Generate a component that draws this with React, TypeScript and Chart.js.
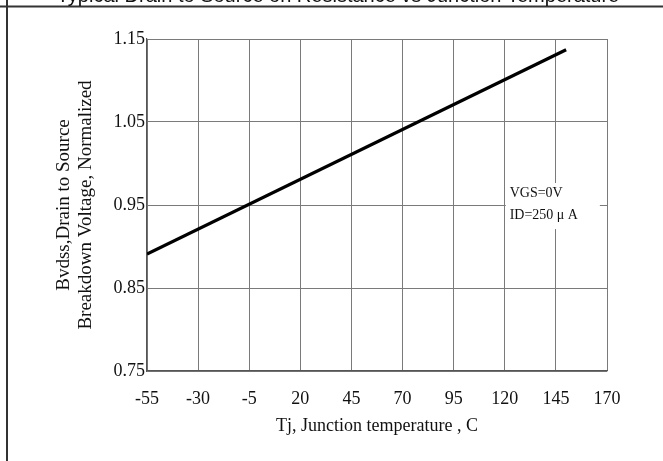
import React, { useEffect, useRef } from "react";
import { Chart, registerables } from "chart.js";

Chart.register(...registerables);

const chartTitle = "Typical Drain to Source on Resistance vs Junction Temperature";
const xTitle = "Tj, Junction temperature , C";
const yTitle = ["Bvdss,Drain to Source", "Breakdown Voltage, Normalized"];
const noteLines = ["VGS=0V", "ID=250 \u03bc A"];

const xTicks = [-55, -30, -5, 20, 45, 70, 95, 120, 145, 170];
const yTicks = [0.75, 0.85, 0.95, 1.05, 1.15];

const temps = [-55, 150];
const bvdss = [0.891, 1.137];

// annotation box (data units)
const noteBoxX = [120, 166.5];
const noteBoxY = [0.9765, 0.921];
const noteTextX = 122.4;
const noteTextY = [0.9635, 0.938];

const SERIF = "'Liberation Serif', 'Times New Roman', serif";
const SANS = "'Liberation Sans', Arial, sans-serif";
const TEXT = "#111111";

const framePlugin = {
  id: "frame",
  beforeDraw(chart: any) {
    const ctx = chart.ctx;
    ctx.save();
    ctx.fillStyle = "#ffffff";
    ctx.fillRect(0, 0, chart.width, chart.height);
    ctx.strokeStyle = "#333333";
    ctx.lineWidth = 2;
    ctx.beginPath();
    ctx.moveTo(7, 0);
    ctx.lineTo(7, chart.height);
    ctx.moveTo(0, 6.5);
    ctx.lineTo(chart.width, 6.5);
    ctx.stroke();
    ctx.fillStyle = TEXT;
    ctx.font = "20px " + SANS;
    ctx.textAlign = "center";
    ctx.textBaseline = "alphabetic";
    ctx.fillText(chartTitle, 338, 2);
    ctx.restore();
  },
  beforeDatasetsDraw(chart: any) {
    const ctx = chart.ctx;
    const xs = chart.scales.x;
    const ys = chart.scales.y;
    const l = xs.getPixelForValue(noteBoxX[0]) + 1;
    const r = xs.getPixelForValue(noteBoxX[1]);
    const t = ys.getPixelForValue(noteBoxY[0]);
    const b = ys.getPixelForValue(noteBoxY[1]);
    ctx.save();
    ctx.fillStyle = "#ffffff";
    ctx.fillRect(l, t, r - l, b - t);
    ctx.fillStyle = TEXT;
    ctx.font = "14px " + SERIF;
    ctx.textAlign = "left";
    ctx.textBaseline = "middle";
    noteLines.forEach((s, i) => {
      ctx.fillText(s, xs.getPixelForValue(noteTextX), ys.getPixelForValue(noteTextY[i]));
    });
    ctx.restore();
  },
};

export default function App() {
  const ref = useRef<HTMLCanvasElement | null>(null);
  useEffect(() => {
    if (!ref.current) return;
    const chart = new Chart(ref.current, {
      type: "line",
      data: {
        datasets: [
          {
            data: temps.map((t, i) => ({ x: t, y: bvdss[i] })),
            borderColor: "#000000",
            borderWidth: 3.2,
            pointRadius: 0,
            fill: false,
            tension: 0,
          },
        ],
      },
      options: {
        animation: false,
        responsive: false,
        devicePixelRatio: 1,
        layout: { padding: { left: 0, top: 39, right: 56, bottom: 0 } },
        plugins: { legend: { display: false }, tooltip: { enabled: false }, title: { display: false } },
        scales: {
          x: {
            type: "linear",
            min: -55,
            max: 170,
            afterBuildTicks: (s: any) => {
              s.ticks = xTicks.map((v) => ({ value: v }));
            },
            afterFit: (s: any) => {
              s.height = 90;
            },
            grid: { color: "#7a7a7a", lineWidth: 1, drawTicks: false },
            border: { color: "#555555", width: 1.2 },
            ticks: {
              padding: 17,
              color: TEXT,
              font: { family: SERIF, size: 18 },
              maxRotation: 0,
              autoSkip: false,
              callback: (v: any) => String(v),
            },
            title: {
              display: true,
              text: xTitle,
              color: TEXT,
              font: { family: SERIF, size: 18 },
              padding: { top: 0, bottom: 24 },
            },
          },
          y: {
            type: "linear",
            min: 0.75,
            max: 1.15,
            afterBuildTicks: (s: any) => {
              s.ticks = yTicks.map((v) => ({ value: v }));
            },
            afterFit: (s: any) => {
              s.width = 147;
            },
            grid: { color: "#7a7a7a", lineWidth: 1, drawTicks: false },
            border: { color: "#555555", width: 1.2 },
            ticks: {
              padding: 2,
              color: TEXT,
              font: { family: SERIF, size: 18 },
              autoSkip: false,
              callback: (v: any) => Number(v).toFixed(2),
            },
            title: {
              display: true,
              text: yTitle,
              color: TEXT,
              font: { family: SERIF, size: 19, lineHeight: 1.16 },
              padding: { top: 53, bottom: 0 },
            },
          },
        },
      },
      plugins: [framePlugin],
    } as any);
    return () => chart.destroy();
  }, []);
  return (
    <div style={{ position: "absolute", left: 0, top: 0, width: 663, height: 461, background: "#fff" }}>
      <canvas ref={ref} width={663} height={461} />
    </div>
  );
}
